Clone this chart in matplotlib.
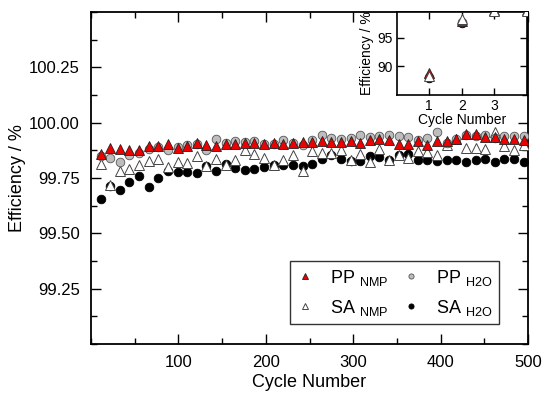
import numpy as np
import matplotlib
matplotlib.use('Agg')
import matplotlib.pyplot as plt
from matplotlib.ticker import MultipleLocator

plt.rcParams['font.family'] = ['Liberation Sans', 'DejaVu Sans']
plt.rcParams['mathtext.fontset'] = 'custom'
plt.rcParams['mathtext.rm'] = 'Liberation Sans'

# ciclos (um ponto a cada 11 ciclos)
ciclos = [11 * k for k in range(1, 46)]

pp_nmp = [99.860, 99.885, 99.882, 99.875, 99.878, 99.895, 99.893, 99.905, 99.887, 99.893,
          99.908, 99.898, 99.895, 99.905, 99.905, 99.910, 99.910, 99.905, 99.910, 99.905,
          99.910, 99.913, 99.913, 99.917, 99.913, 99.913, 99.916, 99.908, 99.920, 99.925,
          99.923, 99.902, 99.905, 99.917, 99.898, 99.916, 99.917, 99.928, 99.947, 99.947,
          99.935, 99.935, 99.928, 99.925, 99.923]
pp_h2o = [99.850, 99.840, 99.822, 99.852, 99.864, 99.882, 99.890, 99.878, 99.890, 99.900,
          99.905, 99.875, 99.928, 99.908, 99.917, 99.913, 99.916, 99.904, 99.905, 99.920,
          99.908, 99.900, 99.920, 99.944, 99.930, 99.928, 99.932, 99.943, 99.935, 99.938,
          99.943, 99.938, 99.935, 99.920, 99.932, 99.958, 99.910, 99.925, 99.945, 99.938,
          99.946, 99.930, 99.940, 99.940, 99.938]
sa_nmp = [99.815, 99.717, 99.780, 99.790, 99.810, 99.825, 99.837, 99.800, 99.822, 99.818,
          99.848, 99.804, 99.837, 99.810, 99.830, 99.878, 99.860, 99.842, 99.810, 99.833,
          99.855, 99.780, 99.872, 99.864, 99.864, 99.875, 99.830, 99.857, 99.822, 99.882,
          99.830, 99.855, 99.842, 99.870, 99.867, 99.852, 99.897, 99.925, 99.885, 99.885,
          99.882, 99.960, 99.895, 99.875, 99.897]
sa_h2o = [99.653, 99.712, 99.697, 99.732, 99.759, 99.710, 99.750, 99.780, 99.777, 99.777,
          99.774, 99.804, 99.780, 99.815, 99.795, 99.785, 99.790, 99.800, 99.810, 99.807,
          99.807, 99.804, 99.815, 99.836, 99.852, 99.837, 99.825, 99.827, 99.850, 99.845,
          99.833, 99.855, 99.860, 99.830, 99.833, 99.825, 99.833, 99.830, 99.822, 99.833,
          99.837, 99.822, 99.837, 99.834, 99.822]

# primeiros ciclos (inset)
ciclos_ini = [1, 2, 3, 4]
pp_nmp_ini = [88.9, 98.0, 99.8, 99.8]
pp_h2o_ini = [88.2, 97.8, 99.8, 99.8]
sa_nmp_ini = [88.3, 98.3, 99.7, 99.7]
sa_h2o_ini = [88.0, 97.6, 99.8, 99.8]


def desenhar(ax, x, pp_n, pp_h, sa_n, sa_h, ms_t, ms_c, z_sa=3):
    ax.plot(x, sa_h, 'o', ls='none', ms=ms_c, mfc='black', mec='black', mew=0.6,
            label=r'SA $_{\mathregular{H2O}}$', zorder=2)
    ax.plot(x, sa_n, '^', ls='none', ms=ms_t, mfc='white', mec='#444444', mew=0.7,
            label=r'SA $_{\mathregular{NMP}}$', zorder=z_sa)
    ax.plot(x, pp_h, 'o', ls='none', ms=ms_c, mfc='#bdbdbd', mec='#555555', mew=0.6,
            label=r'PP $_{\mathregular{H2O}}$', zorder=4)
    ax.plot(x, pp_n, '^', ls='none', ms=ms_t, mfc='#ee0000', mec='#222222', mew=0.6,
            label=r'PP $_{\mathregular{NMP}}$', zorder=5)


fig = plt.figure(figsize=(5.5, 3.94), dpi=100)
ax = fig.add_axes([0.1655, 0.127, 0.7945, 0.8425])
desenhar(ax, ciclos, pp_nmp, pp_h2o, sa_nmp, sa_h2o, 7, 6.2)

ax.set_xlim(0, 500)
ax.set_ylim(99.0, 100.5)
ax.set_xticks([100, 200, 300, 400, 500])
ax.xaxis.set_minor_locator(MultipleLocator(50))
ax.set_yticks([99.25, 99.5, 99.75, 100.0, 100.25])
ax.set_yticklabels(['99.25', '99.50', '99.75', '100.00', '100.25'])
ax.yaxis.set_minor_locator(MultipleLocator(0.125))
ax.tick_params(which='both', direction='in', top=True, right=True, labelsize=12, width=1)
ax.tick_params(which='major', length=7, pad=8)
ax.tick_params(which='minor', length=4)
for s in ax.spines.values():
    s.set_linewidth(1.3)
ax.set_xlabel('Cycle Number', fontsize=13, labelpad=3)
ax.set_ylabel('Efficiency / %', fontsize=13, labelpad=2)

h, l = ax.get_legend_handles_labels()
# PP_NMP, SA_NMP (coluna 1) / PP_H2O, SA_H2O (coluna 2)
ordem = [3, 1, 2, 0]
leg = ax.legend([h[i] for i in ordem], [l[i] for i in ordem], ncol=2,
                loc='lower right', bbox_to_anchor=(0.933, 0.06), fontsize=13,
                markerscale=0.6, frameon=True, fancybox=False, edgecolor='black',
                handlelength=1.0, handletextpad=0.9, columnspacing=0.7,
                borderpad=0.35, labelspacing=0.55, borderaxespad=0)
leg.get_frame().set_linewidth(1.0)

# inset com os primeiros ciclos
axi = fig.add_axes([0.7213, 0.7589, 0.237, 0.2106])
desenhar(axi, ciclos_ini, pp_nmp_ini, pp_h2o_ini, sa_nmp_ini, sa_h2o_ini, 7, 6.2, z_sa=6)
axi.set_xlim(0, 4)
axi.set_ylim(85, 99.5)
axi.set_xticks([1, 2, 3])
axi.set_yticks([90, 95])
axi.tick_params(which='both', direction='in', top=True, right=True, labelsize=10, width=1)
axi.tick_params(which='major', length=5, pad=3)
for s in axi.spines.values():
    s.set_linewidth(1.2)
axi.set_xlabel('Cycle Number', fontsize=10, labelpad=0)
axi.set_ylabel('Efficiency / %', fontsize=10, labelpad=2)

fig.savefig('out.png', dpi=100)
